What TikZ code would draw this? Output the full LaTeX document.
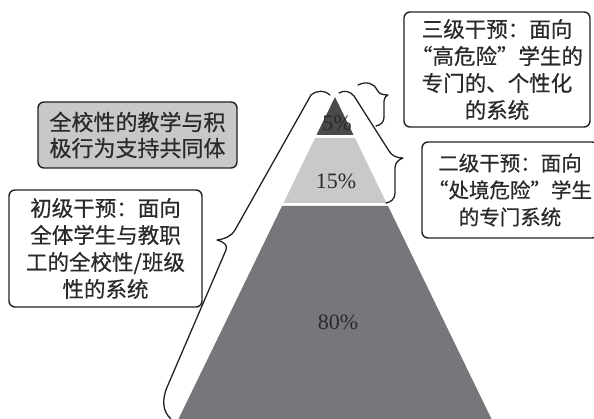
\documentclass[tikz,border=0pt]{standalone}
\usepackage{fontspec}
\setmainfont{Liberation Serif}
\newfontfamily\cjk[FakeBold=0.6]{Noto Sans CJK SC}
\definecolor{topc}{HTML}{4A4A4C}
\definecolor{midc}{HTML}{C9C9C9}
\definecolor{botc}{HTML}{76777B}
\definecolor{boxfill}{HTML}{C8C8C8}
\definecolor{linec}{HTML}{222222}
\definecolor{txtc}{HTML}{2A2A2A}
\begin{document}
\begin{tikzpicture}[x=1pt,y=-1pt,
  infobox/.style={draw=linec, line width=1.4pt, rounded corners=6pt, inner sep=0pt,
    align=center, text=txtc, font=\cjk\fontsize{21.5}{27}\selectfont},
  pct/.style={text=txtc, inner sep=0pt, font=\fontsize{22}{24}\selectfont},
  bracepath/.style={draw=linec, line width=1.3pt, line cap=round, line join=round}]
\useasboundingbox (0,0) rectangle (594,419);
% pyramid
\fill[topc] (335,97) -- (353.5,135) -- (316.5,135) -- cycle;
\fill[midc] (315,138) -- (355,138) -- (386.5,203) -- (283.5,203) -- cycle;
\fill[botc] (282,206) -- (388,206) -- (491.5,419) -- (178.5,419) -- cycle;
\node[pct] (p5) at (337,123) {5\%};
\node[pct] (p15) at (336,181) {15\%};
\node[pct] (p80) at (338,322) {80\%};
% boxes
\node[infobox, minimum width=186pt, minimum height=115pt] (tier3) at (497,69.5)
  {三级干预：面向\\“高危险”学生的\\专门的、个性化\\的系统};
\node[infobox, fill=boxfill, minimum width=199pt, minimum height=66pt,
  font=\cjk\fontsize{22}{26}\selectfont] (school) at (137.5,135)
  {全校性的教学与积\\极行为支持共同体};
\node[infobox, minimum width=193pt, minimum height=117pt] (tier1) at (105.5,248.5)
  {初级干预：面向\\全体学生与教职\\工的全校性/班级\\性的系统};
\node[infobox, minimum width=176pt, minimum height=96pt, text width=166pt,
  font=\cjk\fontsize{20.5}{27}\selectfont] (tier2) at (510,190)
  {二级干预：面向\\“处境危险”学生\\的专门系统};
% braces
\path[bracepath] (330,95) .. controls (325,90) and (317,90) .. (311,95)
  -- (235,230) .. controls (231,237) and (224,239) .. (217,240)
  .. controls (224,242) and (228,245) .. (226,250)
  -- (168,385) .. controls (161,400) and (163,412) .. (171,419);
\path[bracepath] (339,93) .. controls (344,90) and (350,91) .. (354,96)
  -- (389,151) .. controls (392,156) and (397,158) .. (403,158)
  .. controls (398,160) and (395,163) .. (395,168)
  -- (395,193) .. controls (395,199) and (391,202) .. (386,203);
\path[bracepath] (358,85) .. controls (366,81) and (374,83) .. (377,90)
  .. controls (379,94) and (383,95) .. (388,95)
  .. controls (384,97) and (384,100) .. (384,104)
  -- (384,117) .. controls (384,122) and (381,125) .. (376,126);
\end{tikzpicture}
\end{document}
